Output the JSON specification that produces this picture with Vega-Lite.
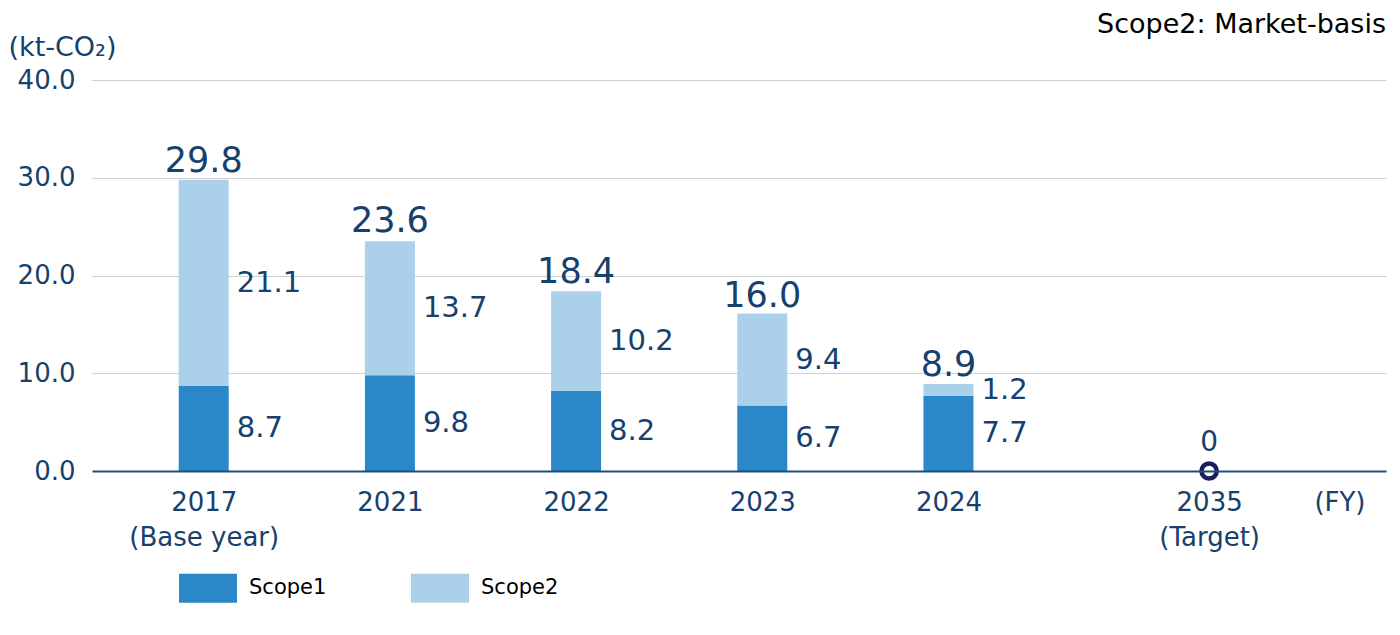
{
  "$schema": "https://vega.github.io/schema/vega-lite/v6.json",
  "width": 1294,
  "height": 391,
  "autosize": {"type": "none"},
  "padding": {"left": 92, "top": 80, "right": 14, "bottom": 164},
  "background": "white",
  "config": {
    "view": {"stroke": null},
    "font": "DejaVu Sans",
    "text": {"font": "DejaVu Sans"}
  },
  "title": {
    "text": "Scope2: Market-basis",
    "anchor": "end",
    "frame": "group",
    "fontSize": 27,
    "fontWeight": "normal",
    "color": "#000000",
    "font": "DejaVu Sans",
    "baseline": "alphabetic",
    "offset": 3,
    "dy": 30
  },
  "datasets": {
    "scopes": [
      {"fy": "2017", "scope": "Scope1", "value": 8.7},
      {"fy": "2017", "scope": "Scope2", "value": 21.1},
      {"fy": "2021", "scope": "Scope1", "value": 9.8},
      {"fy": "2021", "scope": "Scope2", "value": 13.7},
      {"fy": "2022", "scope": "Scope1", "value": 8.2},
      {"fy": "2022", "scope": "Scope2", "value": 10.2},
      {"fy": "2023", "scope": "Scope1", "value": 6.7},
      {"fy": "2023", "scope": "Scope2", "value": 9.4},
      {"fy": "2024", "scope": "Scope1", "value": 7.7},
      {"fy": "2024", "scope": "Scope2", "value": 1.2}
    ],
    "totals": [
      {"fy": "2017", "total": 29.8},
      {"fy": "2021", "total": 23.6},
      {"fy": "2022", "total": 18.4},
      {"fy": "2023", "total": 16.0},
      {"fy": "2024", "total": 8.9}
    ],
    "target": [
      {"fy": "2035", "total": 0}
    ]
  },
  "encoding": {
    "x": {
      "field": "fy",
      "type": "ordinal",
      "scale": {
        "type": "point",
        "padding": 0,
        "domain": ["_m12","_m11","_m10","_m9","_m8","_m7","_m6","_m5","_m4","_m3","_m2","_m1",
          "2017",
          "_1","_2","_3","_4","_5","_6","_7","_8","_9","_10","_11","_12","_13","_14","_15","_16","_17","_18","_19",
          "2021",
          "_21","_22","_23","_24","_25","_26","_27","_28","_29","_30","_31","_32","_33","_34","_35","_36","_37","_38","_39",
          "2022",
          "_41","_42","_43","_44","_45","_46","_47","_48","_49","_50","_51","_52","_53","_54","_55","_56","_57","_58","_59",
          "2023",
          "_61","_62","_63","_64","_65","_66","_67","_68","_69","_70","_71","_72","_73","_74","_75","_76","_77","_78","_79",
          "2024",
          "_81","_82","_83","_84","_85","_86","_87","_88","_89","_90","_91","_92","_93","_94","_95","_96","_97","_98","_99","_100","_101","_102","_103","_104","_105","_106","_107",
          "2035",
          "_109","_110","_111","_112","_113","_114","_115","_116","_117","_118","_119","_120","_121",
          "FY",
          "_123","_124","_125","_126","_127"]
      },
      "axis": {
        "title": null,
        "values": ["2017", "2021", "2022", "2023", "2024", "2035", "FY"],
        "labelExpr": "datum.value == '2017' ? ['2017', '(Base year)'] : datum.value == '2035' ? ['2035', '(Target)'] : datum.value == 'FY' ? '(FY)' : datum.value",
        "labelAngle": 0,
        "labelFontSize": 26,
        "labelColor": "#16406e",
        "labelFont": "DejaVu Sans",
        "labelLineHeight": 35,
        "labelPadding": 18,
        "labelOverlap": false,
        "ticks": false,
        "grid": false,
        "domain": true,
        "domainColor": "#1f4e79",
        "domainWidth": 2,
        "zindex": 1
      }
    }
  },
  "layer": [
    {
      "data": {"name": "scopes"},
      "transform": [
        {"stack": "value", "groupby": ["fy"], "sort": [{"field": "scope", "order": "ascending"}], "as": ["v0", "v1"]}
      ],
      "mark": {"type": "bar", "width": 50},
      "encoding": {
        "y": {
          "field": "v0",
          "type": "quantitative",
          "scale": {"domain": [0, 40], "nice": false},
          "axis": {
            "title": "(kt-CO₂)",
            "titleAngle": 0,
            "titleAlign": "left",
            "titleBaseline": "middle",
            "titleX": -84,
            "titleY": -33,
            "titleFontSize": 27,
            "titleFontWeight": "normal",
            "titleColor": "#16406e",
            "titleFont": "DejaVu Sans",
            "values": [0, 10, 20, 30, 40],
            "format": ".1f",
            "labelFontSize": 26,
            "labelColor": "#16406e",
            "labelFont": "DejaVu Sans",
            "labelPadding": 17,
            "ticks": false,
            "domain": false,
            "grid": true,
            "gridColor": "#d0d0d0",
            "gridWidth": 1.2
          }
        },
        "y2": {"field": "v1"},
        "color": {
          "field": "scope",
          "type": "nominal",
          "scale": {"domain": ["Scope1", "Scope2"], "range": ["#2b88c8", "#abd0ea"]},
          "legend": {
            "title": null,
            "orient": "none",
            "direction": "horizontal",
            "columns": 2,
            "legendX": 87,
            "legendY": 479,
            "padding": 0,
            "symbolType": "M-1,-0.5H1V0.5H-1Z",
            "symbolSize": 3364,
            "symbolStrokeWidth": 0,
            "symbolOpacity": 1,
            "labelFontSize": 21,
            "labelColor": "#000000",
            "labelFont": "DejaVu Sans",
            "labelOffset": 12,
            "columnPadding": 84
          }
        }
      }
    },
    {
      "data": {"name": "scopes"},
      "transform": [
        {"stack": "value", "groupby": ["fy"], "sort": [{"field": "scope", "order": "ascending"}], "as": ["v0", "v1"]},
        {"calculate": "(datum.v0 + datum.v1) / 2", "as": "mid"}
      ],
      "mark": {"type": "text", "align": "left", "baseline": "middle", "dx": 33, "fontSize": 29, "color": "#16406e"},
      "encoding": {
        "y": {"field": "mid", "type": "quantitative"},
        "text": {"field": "value", "type": "quantitative", "format": ".1f"}
      }
    },
    {
      "data": {"name": "totals"},
      "mark": {"type": "text", "align": "center", "baseline": "alphabetic", "dy": -8, "fontSize": 35, "color": "#16406e"},
      "encoding": {
        "y": {"field": "total", "type": "quantitative"},
        "text": {"field": "total", "type": "quantitative", "format": ".1f"}
      }
    },
    {
      "data": {"name": "target"},
      "mark": {"type": "point", "shape": "circle", "filled": true, "fill": "white", "stroke": "#1b1f5c", "strokeWidth": 4.5, "size": 230, "opacity": 1},
      "encoding": {
        "y": {"field": "total", "type": "quantitative"}
      }
    },
    {
      "data": {"name": "target"},
      "mark": {"type": "text", "align": "center", "baseline": "alphabetic", "dy": -20, "fontSize": 28, "color": "#16406e"},
      "encoding": {
        "y": {"field": "total", "type": "quantitative"},
        "text": {"field": "total", "type": "quantitative", "format": "d"}
      }
    }
  ]
}
